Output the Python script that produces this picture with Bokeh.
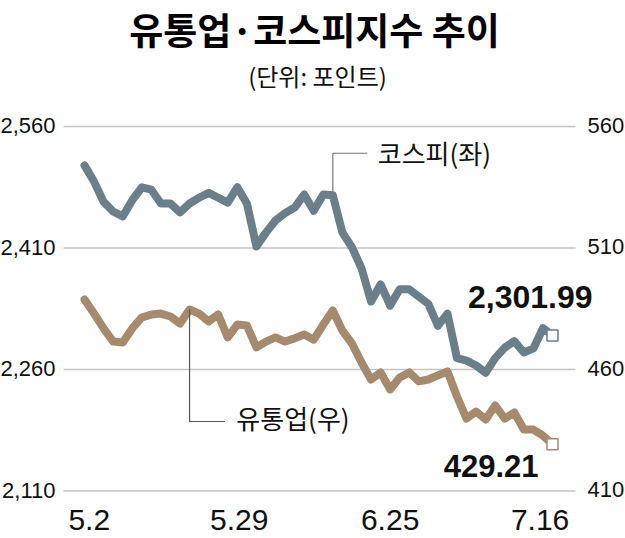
from bokeh.plotting import figure
from bokeh.models import Range1d, Label
from bokeh.embed import file_html
from bokeh.resources import INLINE
from bokeh.core.properties import value

# ---- data ----
dates = ["5.2", "5.3", "5.4", "5.8", "5.9", "5.10", "5.11", "5.14", "5.15", "5.16",
         "5.17", "5.18", "5.21", "5.23", "5.24", "5.25", "5.28", "5.29", "5.30", "5.31",
         "6.1", "6.4", "6.5", "6.7", "6.8", "6.11", "6.12", "6.14", "6.15", "6.18",
         "6.19", "6.20", "6.21", "6.22", "6.25", "6.26", "6.27", "6.28", "6.29", "7.2",
         "7.3", "7.4", "7.5", "7.6", "7.9", "7.10", "7.11", "7.12", "7.13", "7.16"]
kospi = [2512, 2492, 2467, 2455, 2449, 2469, 2485, 2482, 2465, 2465,
         2454, 2465, 2472, 2478, 2472, 2466, 2485, 2465, 2412, 2429,
         2444, 2453, 2460, 2476, 2456, 2476, 2475, 2429, 2411, 2385,
         2344, 2365, 2339, 2359, 2359, 2350, 2341, 2314, 2329, 2274,
         2271, 2265, 2256, 2274, 2287, 2295, 2281, 2286, 2311, 2301.99]
retail = [488.8, 483.0, 476.9, 471.5, 471.1, 476.9, 481.4, 482.6, 483.0, 481.8,
          478.9, 484.7, 483.0, 479.8, 482.6, 473.2, 478.5, 478.1, 469.1, 471.5,
          473.2, 471.5, 472.8, 474.4, 472.3, 478.5, 484.3, 476.0, 470.7, 462.9,
          455.9, 458.8, 451.8, 456.7, 458.8, 455.1, 455.9, 457.6, 459.2, 448.9,
          439.8, 442.7, 439.4, 445.2, 439.8, 442.3, 435.3, 435.3, 432.8, 429.21]
x_tick_labels = ["5.2", "5.29", "6.25", "7.16"]
x_tick_pos = [0.5, 16.2, 32.0, 47.7]
left_ticks = [2110, 2260, 2410, 2560]
right_ticks = [410, 460, 510, 560]

title_text = "유통업·코스피지수 추이"
subtitle_text = "(단위: 포인트)"
kospi_name = "코스피(좌)"
retail_name = "유통업(우)"

# ---- style ----
KOSPI_COLOR = "#6b7f8b"
RETAIL_COLOR = "#a68a6e"
GRID_COLOR = "#c4c4c4"
TXT = "#111111"
NUM_FONT = value("Liberation Sans")
KR_FONT = value("Noto Sans CJK KR")
GX0, GX1 = -2.199, 51.408        # plot-area horizontal extent (index units)

x = list(range(len(kospi)))

p = figure(width=625, height=538, output_backend="svg", toolbar_location=None,
           x_range=Range1d(-8.795, 56.643), y_range=Range1d(2051.36, 2715.56),
           x_axis_location=None, y_axis_location=None,
           min_border_left=0, min_border_right=0, min_border_top=0, min_border_bottom=0)
p.extra_y_ranges = {"right": Range1d(390.45, 611.85)}
p.outline_line_color = None
p.xgrid.visible = False
p.ygrid.visible = False
p.background_fill_color = "white"
p.border_fill_color = "white"

# horizontal grid lines at the tick values
p.segment(x0=[GX0] * len(left_ticks), y0=left_ticks, x1=[GX1] * len(left_ticks), y1=left_ticks,
          line_color=GRID_COLOR, line_width=1.3)

# tick labels
p.text(x=[GX0] * len(left_ticks), y=left_ticks, text=[f"{t:,}" for t in left_ticks],
       x_offset=-8, y_offset=-1, text_align="right", text_baseline="middle",
       text_font=NUM_FONT, text_font_size="22px", text_color=TXT)
p.text(x=[GX1] * len(right_ticks), y=right_ticks, y_range_name="right",
       text=[f"{t:,}" for t in right_ticks],
       x_offset=12, y_offset=-1, text_align="left", text_baseline="middle",
       text_font=NUM_FONT, text_font_size="22px", text_color=TXT)
p.text(x=x_tick_pos, y=[left_ticks[0]] * len(x_tick_pos), text=x_tick_labels,
       y_offset=29, text_align="center", text_baseline="middle",
       text_font=NUM_FONT, text_font_size="30px", text_color=TXT)

# lines
p.line(x, kospi, line_color=KOSPI_COLOR, line_width=8, line_join="round", line_cap="round")
p.line(x, retail, y_range_name="right", line_color=RETAIL_COLOR, line_width=8,
       line_join="round", line_cap="round")

# end markers
p.scatter([x[-1]], [kospi[-1]], marker="square", size=11, fill_color="white",
          line_color=KOSPI_COLOR, line_width=1.5)
p.scatter([x[-1]], [retail[-1]], y_range_name="right", marker="square", size=11,
          fill_color="white", line_color=RETAIL_COLOR, line_width=1.5)

# callouts
ki, k_top, k_end, k_txt = 26, 2527, 29.6, 30.7
p.line([ki, ki, k_end], [kospi[ki], k_top, k_top], line_color="#777777", line_width=1.2)
p.text(x=[k_txt], y=[k_top], text=[kospi_name], y_offset=-1, text_font=KR_FONT,
       text_font_size="26px", text_align="left", text_baseline="middle", text_color=TXT)
ri, r_bot, r_end, r_txt = 11, 438.6, 14.7, 15.9
p.line([ri, ri, r_end], [retail[ri], r_bot, r_bot], y_range_name="right",
       line_color="#555555", line_width=1.2)
p.text(x=[r_txt], y=[r_bot], y_range_name="right", text=[retail_name], y_offset=-4,
       text_font=KR_FONT, text_font_size="26px", text_align="left",
       text_baseline="middle", text_color=TXT)

# last values
p.text(x=[x[-1]], y=[kospi[-1]], text=[f"{kospi[-1]:,.2f}"], x_offset=40, y_offset=-38,
       text_align="right", text_baseline="middle", text_font=NUM_FONT,
       text_font_style="bold", text_font_size="32px", text_color=TXT)
p.text(x=[x[-1]], y=[retail[-1]], y_range_name="right", text=[f"{retail[-1]:,.2f}"],
       x_offset=-14, y_offset=22, text_align="right", text_baseline="middle",
       text_font=NUM_FONT, text_font_style="bold", text_font_size="31px", text_color=TXT)

# title and unit (screen units from the plot's bottom-left)
p.add_layout(Label(x=314, y=510, x_units="screen", y_units="screen", text=title_text,
                   text_font="Noto Sans CJK KR", text_font_style="bold", text_font_size="37px",
                   text_align="center", text_baseline="middle", text_color="black"))
p.add_layout(Label(x=317, y=463, x_units="screen", y_units="screen", text=subtitle_text,
                   text_font="Noto Sans CJK KR", text_font_size="24px",
                   text_align="center", text_baseline="middle", text_color=TXT))

open("out.html", "w").write(file_html(p, INLINE))
